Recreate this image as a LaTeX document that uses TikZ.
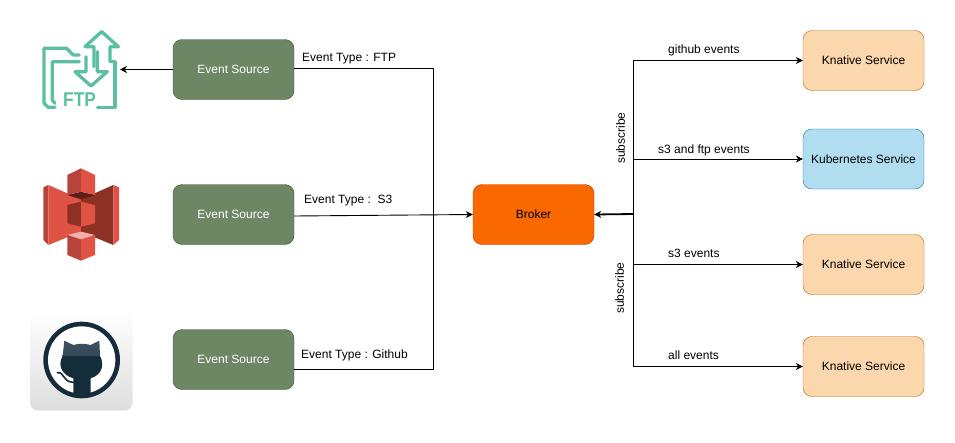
\documentclass[tikz,border=0pt]{standalone}
\usepackage{fontspec}
\setmainfont{Liberation Sans}
\usetikzlibrary{arrows.meta}
\definecolor{srcfill}{HTML}{6D8764}
\definecolor{srcline}{HTML}{3A5431}
\definecolor{brokerfill}{HTML}{FA6800}
\definecolor{brokerline}{HTML}{C73500}
\definecolor{knfill}{HTML}{FAD7AC}
\definecolor{knline}{HTML}{B46504}
\definecolor{k8sfill}{HTML}{B1DDF0}
\definecolor{k8sline}{HTML}{10739E}
\definecolor{ftpteal}{HTML}{5CBFA2}
\definecolor{ghdark}{HTML}{152C3B}
\definecolor{ghhead}{HTML}{3F5263}
\definecolor{sthree}{HTML}{E05243}
\definecolor{sthreemid}{HTML}{B8433A}
\definecolor{sthreedark}{HTML}{8C3123}
\definecolor{sthreeshade}{HTML}{5E1F18}
\definecolor{sthreepale}{HTML}{F2B0A9}
\begin{document}
\begin{tikzpicture}
	[x=1pt,y=-1pt,
	box/.style={rectangle,rounded corners=9pt,minimum width=121pt,minimum height=60pt,inner sep=0pt,font=\fontsize{12}{14}\selectfont},
	srcbox/.style={box,fill=srcfill,draw=srcline,text=white},
	knbox/.style={box,fill=knfill,draw=knline},
	k8sbox/.style={box,fill=k8sfill,draw=k8sline},
	brokerbox/.style={box,fill=brokerfill,draw=brokerline},
	wire/.style={line width=0.9pt},
	tip/.style={-{Stealth[length=7pt,width=7pt]}},
	lbl/.style={inner sep=0pt,font=\fontsize{12}{14}\selectfont},
	ftpline/.style={draw=ftpteal,line width=3.3pt,line join=round,line cap=round}]
	\useasboundingbox (0,0) rectangle (955,442);
	% ftp icon
	\begin{scope}[shift={(20,10)},scale=1/3]
		\path[ftpline] (105,292) -- (85,292) -- (72,280) -- (72,115) -- (140,115) -- (160,135) -- (178,135);
		\path[ftpline] (105,280) -- (97,270) -- (97,155) -- (178,155);
		\path[ftpline] (272,155) -- (285,155) -- (285,292) -- (232,292);
		\path[ftpline] (222,170) -- (222,110) -- (195,110) -- (245,65) -- (295,110) -- (270,110) -- (270,155);
		\path[ftpline] (198,140) -- (198,185) -- (165,185) -- (213,228) -- (262,185) -- (232,185) -- (232,125);
		\node[inner sep=0pt,text=ftpteal,font=\bfseries\fontsize{20}{20}\selectfont,xscale=0.87] (ftptext) at (179,270) {FTP};
	\end{scope}
	% s3 icon
	\begin{scope}[shift={(20,160)},scale=1/3]
		\fill[sthreemid] (70,82) -- (85,75) -- (85,255) -- (70,240) -- cycle;
		\fill[sthree] (85,75) -- (183,118) -- (183,215) -- (85,255) -- cycle;
		\fill[sthreedark] (280,75) -- (183,118) -- (183,215) -- (280,255) -- cycle;
		\fill[sthree] (280,75) -- (297,82) -- (297,240) -- (280,255) -- cycle;
		\fill[sthreedark] (142,135) -- (183,125) -- (183,200) -- (142,190) -- cycle;
		\fill[sthree] (183,125) -- (225,135) -- (225,190) -- (183,200) -- cycle;
		\fill[sthreeshade] (142,105) -- (183,95) -- (225,105) -- (183,118) -- cycle;
		\fill[sthreemid] (142,45) -- (183,25) -- (183,95) -- (142,105) -- cycle;
		\fill[sthree] (183,25) -- (225,45) -- (225,105) -- (183,95) -- cycle;
		\fill[sthreepale] (142,225) -- (183,215) -- (225,225) -- (183,238) -- cycle;
		\fill[sthreemid] (142,225) -- (183,238) -- (183,302) -- (142,285) -- cycle;
		\fill[sthree] (183,238) -- (225,225) -- (225,285) -- (183,302) -- cycle;
	\end{scope}
	% github icon
	\begin{scope}[shift={(20,300)},scale=1/3]
		\shade[top color=white,bottom color=black!13,rounded corners=8pt] (30,30) rectangle (338,332);
		\fill[ghdark] (185,180) circle (115);
		\fill[white] (185,180) circle (101);
		\fill[ghdark] (128,168) -- (240,168) .. controls (255,195) and (245,225) .. (212,235) -- (212,285) -- (160,285) -- (160,235)
			.. controls (125,225) and (112,195) .. (128,168) -- cycle;
		\shade[top color=ghhead,bottom color=ghhead!70!ghdark] (133,122) -- (160,135) .. controls (175,130) and (195,130) .. (212,135) -- (238,122) -- (240,168)
			-- (128,168) -- cycle;
		\draw[ghdark,line width=1.6pt,line cap=round] (112,218) .. controls (135,215) and (125,245) .. (160,247);
	\end{scope}
	% nodes
	\node[srcbox] (srca) at (233.5,69.5) {Event Source};
	\node[srcbox] (srcb) at (233.5,214.5) {Event Source};
	\node[srcbox] (srcc) at (233.5,359.5) {Event Source};
	\node[brokerbox] (broker) at (533.5,214.5) {Broker};
	\node[knbox] (kna) at (863.5,60.5) {Knative Service};
	\node[k8sbox] (k8s) at (863.5,159) {Kubernetes Service};
	\node[knbox] (knb) at (863.5,264.5) {Knative Service};
	\node[knbox] (knc) at (863.5,366.5) {Knative Service};
	\coordinate (ftpicon) at (120,69.5);
	\coordinate (busl) at (433,214);
	\coordinate (busr) at (633,214);
	% left side
	\draw[wire,tip] (srca.west) -- (ftpicon);
	\draw[wire] ([yshift=1.5pt]srca.east) -| (busl);
	\draw[wire,tip] ([yshift=-1.5pt]srcb.east) -- (broker.west);
	\draw[wire] ([yshift=-9.5pt]srcc.east) -| (busl);
	% right side
	\draw[line width=1.8pt,tip] (busr) -- (broker.east);
	\draw[wire,tip] (busr) |- (kna.west);
	\draw[wire,tip] (busr) |- (k8s.west);
	\draw[wire,tip] (busr) |- (knb.west);
	\draw[wire,tip] (busr) |- (knc.west);
	% labels
	\node[lbl,anchor=west] (lbla) at (302,59) {Event Type : FTP};
	\node[lbl,anchor=west] (lblb) at (304,201) {Event Type :\ \ S3};
	\node[lbl,anchor=west] (lblc) at (301,355) {Event Type : Github};
	\node[lbl,anchor=west] (lbld) at (668,50) {github events};
	\node[lbl,anchor=west] (lble) at (658,150) {s3 and ftp events};
	\node[lbl,anchor=west] (lblf) at (668,253) {s3 events};
	\node[lbl,anchor=west] (lblg) at (668,355) {all events};
	\node[lbl,rotate=90] (suba) at (620.5,138) {subscribe};
	\node[lbl,rotate=90] (subb) at (619.5,288) {subscribe};
\end{tikzpicture}
\end{document}
